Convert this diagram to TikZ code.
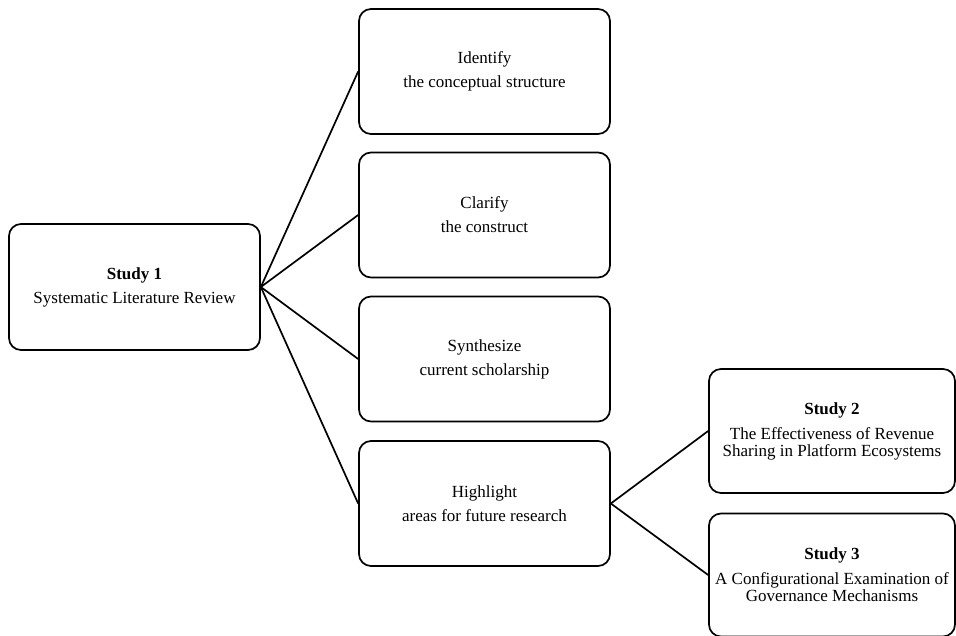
\documentclass[tikz,border=0pt]{standalone}
\usepackage{fontspec}
\setmainfont{Liberation Serif}
\begin{document}
\begin{tikzpicture}[x=1pt,y=-1pt,
  box/.style={draw=black, line width=1.7pt, rounded corners=12pt, fill=white,
    align=center, inner sep=0pt, font=\fontsize{17}{17}\selectfont},
  midbox/.style={box, minimum width=251pt, minimum height=125pt},
  link/.style={draw=black, line width=1.7pt}]
\useasboundingbox (0,0) rectangle (956,635);

% root study
\node[box, minimum width=251pt, minimum height=126pt] (s1) at (134.5,287)
  {\textbf{Study 1}\\[7pt]Systematic Literature Review};

% aims of the review
\node[midbox] (n1) at (484.5,71.5) {Identify\\[7pt]the conceptual structure};
\node[midbox] (n2) at (484.5,215) {Clarify\\[7pt]the construct};
\node[midbox] (n3) at (484.5,359) {Synthesize\\[7pt]current scholarship};
\node[midbox] (n4) at (484.5,503.5) {Highlight\\[7pt]areas for future research};

% follow-up studies
\node[box, minimum width=246pt, minimum height=124pt] (s2) at (832,431)
  {\textbf{Study 2}\\[8pt]The Effectiveness of Revenue\\Sharing in Platform Ecosystems};
\node[box, minimum width=246pt, minimum height=123pt] (s3) at (832,575)
  {\textbf{Study 3}\\[8pt]A Configurational Examination of\\Governance Mechanisms};

% connectors
\foreach \t in {n1,n2,n3,n4}
  \draw[link] (s1.east) -- (\t.west);
\draw[link] (n4.east) -- (s2.west);
\draw[link] (n4.east) -- (s3.west);
\end{tikzpicture}
\end{document}
